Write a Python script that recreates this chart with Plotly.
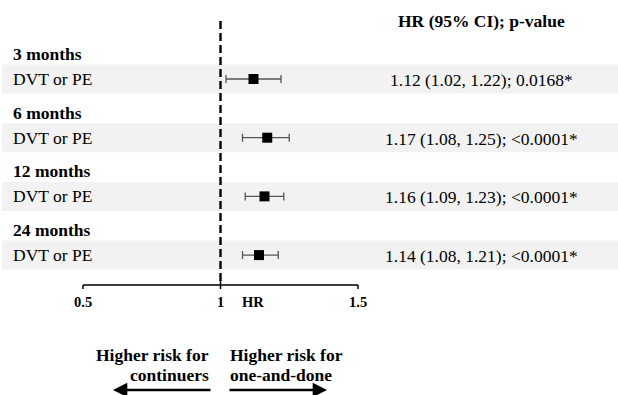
import plotly.graph_objects as go

# Forest plot: hazard ratios for DVT or PE, one-and-done vs continuers
periods = ["3 months", "6 months", "12 months", "24 months"]
outcome = "DVT or PE"
hr = [1.12, 1.17, 1.16, 1.14]
ci_low = [1.02, 1.08, 1.09, 1.08]
ci_high = [1.22, 1.25, 1.23, 1.21]
p_values = ["0.0168*", "<0.0001*", "<0.0001*", "<0.0001*"]
x_ticks = [0.5, 1, 1.5]
x_tick_labels = ["0.5", "1", "1.5"]

W, H = 618, 395
SERIF = "Liberation Serif, Times New Roman, serif"

# x: HR scale (0.5 at 83px, 1.5 at 358px); y: vertical layout units (0 at top)
px_per_unit = 275.0
x0 = 0.5 - 83 / px_per_unit
x1 = 0.5 + (W - 83) / px_per_unit

row_y = [79 + 58.7 * i for i in range(len(periods))]
head_y = [y - 25 for y in row_y]
axis_y = 285


def px(xp):
    return xp / W


fig = go.Figure()

shapes = []
# shaded rows
for y in row_y:
    shapes.append(dict(type="rect", xref="paper", yref="y", x0=px(2), x1=1,
                       y0=y - 14.5, y1=y + 14.5, fillcolor="#f2f2f2",
                       line=dict(width=0), layer="below"))
# reference line at HR = 1
shapes.append(dict(type="line", xref="x", yref="y", x0=1, x1=1, y0=21, y1=284,
                   line=dict(color="black", width=2.4, dash="8px,4px")))
# axis line and ticks
shapes.append(dict(type="line", xref="x", yref="y", x0=x_ticks[0], x1=x_ticks[-1],
                   y0=axis_y, y1=axis_y, line=dict(color="black", width=1.5)))
for t in x_ticks:
    top = axis_y - 5 if t == 1 else axis_y
    shapes.append(dict(type="line", xref="x", yref="y", x0=t, x1=t,
                       y0=top, y1=axis_y + 4, line=dict(color="black", width=1.5)))

fig.add_trace(go.Scatter(
    x=hr, y=row_y, mode="markers",
    marker=dict(symbol="square", size=10, color="black"),
    error_x=dict(type="data", symmetric=False,
                 array=[hi - h for hi, h in zip(ci_high, hr)],
                 arrayminus=[h - lo for h, lo in zip(hr, ci_low)],
                 color="#555555", thickness=1.3, width=4),
    showlegend=False, hoverinfo="skip",
))

annotations = []
for per, y_h, y_r, h, lo, hi, p in zip(periods, head_y, row_y, hr, ci_low, ci_high, p_values):
    annotations.append(dict(text="<b>%s</b>" % per, xref="paper", yref="y", x=px(11), y=y_h,
                            xanchor="left", yanchor="middle", showarrow=False,
                            font=dict(family=SERIF, size=17.5, color="black")))
    annotations.append(dict(text=outcome, xref="paper", yref="y", x=px(11), y=y_r,
                            xanchor="left", yanchor="middle", showarrow=False,
                            font=dict(family=SERIF, size=17.5, color="black")))
    annotations.append(dict(text="%.2f (%.2f, %.2f); %s" % (h, lo, hi, p),
                            xref="paper", yref="y", x=px(482), y=y_r + 1,
                            xanchor="center", yanchor="middle", showarrow=False,
                            font=dict(family=SERIF, size=17.5, color="black")))

annotations.append(dict(text="<b>HR (95% CI); p-value</b>", xref="paper", yref="y",
                        x=px(482), y=21, xanchor="center", yanchor="middle", showarrow=False,
                        font=dict(family=SERIF, size=17.5, color="black")))

for t, lab in zip(x_ticks, x_tick_labels):
    annotations.append(dict(text="<b>%s</b>" % lab, xref="x", yref="y", x=t, y=302,
                            xanchor="center", yanchor="middle", showarrow=False,
                            font=dict(family=SERIF, size=14.5, color="black")))
annotations.append(dict(text="<b>HR</b>", xref="paper", yref="y", x=px(253), y=302,
                        xanchor="center", yanchor="middle", showarrow=False,
                        font=dict(family=SERIF, size=14.5, color="black")))

# direction labels
for txt, y in [("Higher risk for", 355), ("continuers", 375)]:
    annotations.append(dict(text="<b>%s</b>" % txt, xref="paper", yref="y", x=px(211), y=y,
                            xanchor="right", yanchor="middle", showarrow=False,
                            font=dict(family=SERIF, size=17.5, color="black")))
for txt, y in [("Higher risk for", 355), ("one-and-done", 375)]:
    annotations.append(dict(text="<b>%s</b>" % txt, xref="paper", yref="y", x=px(228), y=y,
                            xanchor="left", yanchor="middle", showarrow=False,
                            font=dict(family=SERIF, size=17.5, color="black")))

# arrows
for head, tail in [(113, 212), (327, 228)]:
    annotations.append(dict(text="", xref="paper", yref="y", x=px(head), y=390,
                            axref="pixel", ayref="pixel", ax=tail - head, ay=0,
                            showarrow=True, arrowhead=2, arrowsize=1.1, arrowwidth=2.6,
                            arrowcolor="black"))

fig.update_layout(
    width=W, height=H,
    margin=dict(l=0, r=0, t=0, b=0),
    paper_bgcolor="white", plot_bgcolor="white",
    font=dict(family=SERIF),
    xaxis=dict(range=[x0, x1], visible=False, fixedrange=True),
    yaxis=dict(range=[H, 0], visible=False, fixedrange=True),
    shapes=shapes, annotations=annotations,
)

fig.write_html("out.html")
